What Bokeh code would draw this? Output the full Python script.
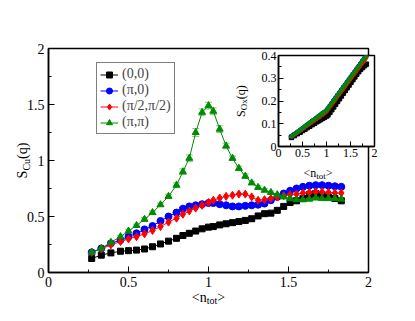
import math
from bokeh.plotting import figure
from bokeh.models import (ColumnDataSource, FixedTicker, Legend, LegendItem,
                          Whisker, TeeHead)
from bokeh.core.properties import value
from bokeh.layouts import column
from bokeh.embed import file_html
from bokeh.resources import INLINE

# ---------------- data ----------------
n_tot = [0.27, 0.33, 0.39, 0.45, 0.50, 0.55, 0.60, 0.65, 0.70, 0.75, 0.80, 0.84, 0.88,
         0.92, 0.96, 1.00, 1.03, 1.07, 1.11, 1.15, 1.19, 1.23, 1.27, 1.31, 1.35, 1.39,
         1.43, 1.47, 1.51, 1.55, 1.59, 1.63, 1.67, 1.71, 1.75, 1.79, 1.83]

scu_00 = [0.125, 0.155, 0.175, 0.19, 0.195, 0.20, 0.21, 0.23, 0.255, 0.28, 0.305, 0.33,
          0.35, 0.37, 0.39, 0.405, 0.41, 0.425, 0.435, 0.445, 0.455, 0.465, 0.48, 0.505,
          0.525, 0.53, 0.555, 0.59, 0.625, 0.64, 0.66, 0.695, 0.705, 0.69, 0.675, 0.66, 0.64]
scu_pi0 = [0.18, 0.215, 0.26, 0.29, 0.32, 0.35, 0.385, 0.415, 0.46, 0.50, 0.535, 0.57,
           0.59, 0.60, 0.61, 0.62, 0.62, 0.61, 0.60, 0.59, 0.59, 0.595, 0.60, 0.605,
           0.615, 0.645, 0.675, 0.705, 0.73, 0.75, 0.765, 0.775, 0.78, 0.78, 0.775, 0.77, 0.765]
scu_pi2 = [0.18, 0.21, 0.247, 0.277, 0.30, 0.32, 0.345, 0.375, 0.41, 0.45, 0.485, 0.52,
           0.55, 0.575, 0.60, 0.625, 0.645, 0.665, 0.68, 0.69, 0.70, 0.70, 0.675, 0.645,
           0.65, 0.66, 0.675, 0.685, 0.695, 0.70, 0.71, 0.715, 0.72, 0.72, 0.715, 0.71, 0.71]
scu_pipi = [0.18, 0.215, 0.27, 0.32, 0.37, 0.42, 0.475, 0.535, 0.605, 0.68, 0.78, 0.90,
            1.02, 1.25, 1.43, 1.49, 1.44, 1.28, 1.13, 1.02, 0.93, 0.86, 0.80, 0.76,
            0.735, 0.715, 0.695, 0.675, 0.66, 0.65, 0.65, 0.655, 0.665, 0.66, 0.66, 0.66, 0.655]
err_pipi = [0.01, 0.01, 0.01, 0.012, 0.012, 0.012, 0.015, 0.015, 0.015, 0.018, 0.02, 0.025,
            0.03, 0.035, 0.03, 0.03, 0.03, 0.03, 0.025, 0.02, 0.02, 0.02, 0.015, 0.015,
            0.015, 0.012, 0.012, 0.012, 0.01, 0.01, 0.01, 0.01, 0.01, 0.01, 0.01, 0.01, 0.01]
err_00 = [0.005, 0.005, 0.005, 0.005, 0.005, 0.005, 0.005, 0.005, 0.005, 0.005, 0.005, 0.005,
          0.005, 0.005, 0.005, 0.005, 0.005, 0.005, 0.005, 0.005, 0.005, 0.005, 0.005, 0.008,
          0.008, 0.01, 0.01, 0.012, 0.012, 0.015, 0.02, 0.025, 0.025, 0.025, 0.02, 0.02, 0.015]

sox_00 = [0.040, 0.048, 0.056, 0.063, 0.070, 0.076, 0.083, 0.089, 0.096, 0.102, 0.109, 0.114,
          0.119, 0.124, 0.129, 0.134, 0.139, 0.150, 0.162, 0.174, 0.186, 0.198, 0.210, 0.222,
          0.234, 0.246, 0.258, 0.270, 0.282, 0.294, 0.306, 0.318, 0.329, 0.339, 0.347, 0.355, 0.362]
sox_pi0 = [0.044, 0.053, 0.062, 0.071, 0.079, 0.087, 0.095, 0.103, 0.111, 0.118, 0.126, 0.132,
           0.139, 0.145, 0.151, 0.158, 0.167, 0.178, 0.190, 0.202, 0.213, 0.225, 0.236, 0.248,
           0.260, 0.271, 0.283, 0.294, 0.306, 0.318, 0.329, 0.341, 0.352, 0.364, 0.376, 0.387, 0.398]
sox_pi2 = [0.043, 0.051, 0.060, 0.069, 0.076, 0.084, 0.091, 0.099, 0.106, 0.113, 0.121, 0.127,
           0.133, 0.139, 0.145, 0.152, 0.160, 0.171, 0.182, 0.194, 0.205, 0.217, 0.228, 0.240,
           0.251, 0.262, 0.274, 0.285, 0.297, 0.308, 0.319, 0.331, 0.342, 0.354, 0.365, 0.376, 0.388]
sox_pipi = [0.045, 0.054, 0.064, 0.073, 0.081, 0.089, 0.097, 0.105, 0.113, 0.120, 0.128, 0.134,
            0.141, 0.147, 0.153, 0.160, 0.169, 0.180, 0.192, 0.204, 0.215, 0.227, 0.238, 0.250,
            0.262, 0.273, 0.285, 0.296, 0.308, 0.320, 0.331, 0.343, 0.354, 0.366, 0.378, 0.389, 0.401]

labels = ["(0,0)", "(\u03c0,0)", "(\u03c0/2,\u03c0/2)", "(\u03c0,\u03c0)"]
colors = ["#000000", "#0000ff", "#ff0000", "#008b00"]
markers = ["square", "circle", "diamond", "triangle"]
msizes = [6, 7, 8, 7]

main_x_ticks = [0, 0.5, 1, 1.5, 2]
main_x_minor = [0.25, 0.75, 1.25, 1.75]
main_y_ticks = [0, 0.5, 1, 1.5, 2]
main_y_minor = [0.25, 0.75, 1.25, 1.75]
in_x_ticks = [0, 0.5, 1, 1.5, 2]
in_x_minor = [0.25, 0.75, 1.25, 1.75]
in_y_ticks = [0, 0.1, 0.2, 0.3, 0.4]
in_y_minor = [0.05, 0.15, 0.25, 0.35]

FONT = "Liberation Serif"

src = ColumnDataSource(dict(x=n_tot, s00=scu_00, spi0=scu_pi0, spi2=scu_pi2, spipi=scu_pipi,
                            up_pipi=[a + b for a, b in zip(scu_pipi, err_pipi)],
                            lo_pipi=[a - b for a, b in zip(scu_pipi, err_pipi)],
                            up_00=[a + b for a, b in zip(scu_00, err_00)],
                            lo_00=[a - b for a, b in zip(scu_00, err_00)],
                            o00=sox_00, opi0=sox_pi0, opi2=sox_pi2, opipi=sox_pipi))


def style_axes(fig, xt, xm, yt, ym, fs, tick_in, minor_in, stand):
    fig.xgrid.visible = False
    fig.ygrid.visible = False
    fig.outline_line_color = "black"
    fig.outline_line_width = 1.5
    fig.outline_line_alpha = 1
    for ax, t, m in ((fig.xaxis[0], xt, xm), (fig.yaxis[0], yt, ym)):
        ax.ticker = FixedTicker(ticks=t, minor_ticks=m)
        ax.axis_line_color = "black"
        ax.axis_line_width = 1.5
        ax.major_tick_in = tick_in
        ax.major_tick_out = 0
        ax.minor_tick_in = minor_in
        ax.minor_tick_out = 0
        ax.major_tick_line_color = "black"
        ax.minor_tick_line_color = "black"
        ax.major_label_text_font = FONT
        ax.major_label_text_font_size = fs
        ax.major_label_text_color = "black"
        ax.major_label_standoff = stand
    fig.xaxis[0].major_label_overrides = {0: "0", 1: "1", 2: "2"}
    fig.yaxis[0].major_label_overrides = {0: "0", 1: "1", 2: "2"}


# ---------------- main figure ----------------
ML, MT, MR, MB = 48, 48, 39, 41
FW, FH = 320, 224
H = MT + FH + MB
p = figure(frame_width=FW, frame_height=FH, x_range=(0, 2), y_range=(0, 2),
           output_backend="svg", toolbar_location=None,
           min_border_left=ML, min_border_right=MR, min_border_top=MT, min_border_bottom=MB)
style_axes(p, main_x_ticks, main_x_minor, main_y_ticks, main_y_minor, "14px", 6, 3, 4)
p.background_fill_color = "white"
p.border_fill_color = "white"

p.add_layout(Whisker(base="x", upper="up_00", lower="lo_00", source=src,
                     line_color="#808080", line_width=1,
                     upper_head=TeeHead(size=6, line_color="#808080"),
                     lower_head=TeeHead(size=6, line_color="#808080")))
p.add_layout(Whisker(base="x", upper="up_pipi", lower="lo_pipi", source=src,
                     line_color="#7fc97f", line_width=1,
                     upper_head=TeeHead(size=7, line_color="#7fc97f"),
                     lower_head=TeeHead(size=7, line_color="#7fc97f")))

items = []
for col, lab, c, mk, ms in zip(["s00", "spi0", "spi2", "spipi"], labels, colors, markers, msizes):
    ln = p.line("x", col, source=src, line_color=c, line_width=1)
    sc = p.scatter("x", col, source=src, marker=mk, size=ms, fill_color=c, line_color=c)
    items.append(LegendItem(label=lab, renderers=[ln, sc]))

leg = Legend(items=items, location=(48, 138))
leg.border_line_color = "black"
leg.border_line_width = 1.5
leg.background_fill_color = "white"
leg.background_fill_alpha = 1
leg.label_text_font = FONT
leg.label_text_font_size = "14px"
leg.label_height = 15
leg.glyph_height = 15
leg.glyph_width = 18
leg.label_standoff = 4
leg.spacing = 0
leg.padding = 3
leg.margin = 0
p.add_layout(leg, "center")

# ---------------- inset ----------------
IT, IB = 5, 24
IFW, IFH = 96, 91
q = figure(frame_width=IFW, frame_height=IFH, x_range=(0, 2), y_range=(0, 0.4),
           output_backend="svg", toolbar_location=None,
           min_border_left=ML, min_border_right=MR, min_border_top=IT, min_border_bottom=IB)
style_axes(q, in_x_ticks, in_x_minor, in_y_ticks, in_y_minor, "12px", 5, 3, 2)
q.yaxis[0].major_label_overrides = {0: "0"}
q.background_fill_color = "white"
q.border_fill_color = None
for col, c, mk in zip(["o00", "opi0", "opi2", "opipi"], colors, markers):
    q.line("x", col, source=src, line_color=c, line_width=2)
    q.scatter("x", col, source=src, marker=mk, size=4.5, fill_color=c, line_color=c)
q.styles = {"position": "absolute", "left": "230px", "top": "50px", "z-index": "10"}


# ---------------- text overlays (axis titles with subscripts) ----------------
def overlay(page_left):
    f = figure(frame_width=FW, frame_height=H, x_range=(0, FW), y_range=(0, H),
               output_backend="svg", toolbar_location=None,
               min_border_left=ML, min_border_right=MR, min_border_top=0, min_border_bottom=0,
               x_axis_location=None, y_axis_location=None)
    f.grid.visible = False
    f.outline_line_color = None
    f.background_fill_color = None
    f.border_fill_color = None
    f.styles = {"position": "absolute", "left": f"{page_left - ML}px", "top": "0px",
                "z-index": "20"}
    return f


A = math.pi / 2
# (text, page_x, page_y, size, angle)
main_pieces = [
    ("S", 22, 177.9, "14px", A), ("Cu", 26, 170.1, "10px", A), ("(q)", 22, 158.4, "14px", A),
    ("<n", 191.3, 297, "14px", 0), ("tot", 206.2, 300, "10px", 0), (">", 216.8, 297, "14px", 0),
]
inset_pieces = [
    ("S", 240, 116.4, "12px", A), ("Ox", 243.5, 109.7, "9px", A), ("(q)", 240, 98.7, "12px", A),
    ("<n", 303, 172, "12px", 0), ("tot", 315.8, 175, "9px", 0), (">", 325.3, 172, "12px", 0),
]
overlays = []
for left, pcs in ((0, main_pieces), (20, inset_pieces)):
    f = overlay(left)
    for txt, px, py, fs, ang in pcs:
        f.text(x=[px - left], y=[H - py], text=[txt], angle=ang, text_font=value(FONT),
               text_font_size=fs, text_color="black", text_align="left",
               text_baseline="alphabetic")
    overlays.append(f)

layout = column(p, q, *overlays)
open("out.html", "w").write(file_html(layout, INLINE))
